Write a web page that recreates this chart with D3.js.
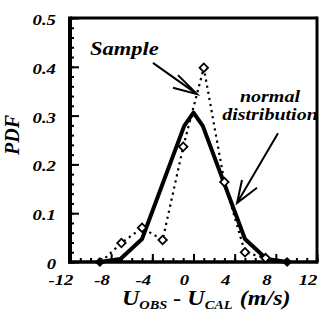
<!DOCTYPE html>
<html>
<head>
<meta charset="utf-8">
<script src="https://cdn.jsdelivr.net/npm/d3@7"></script>
<style>
  body { margin: 0; background: #fff; }
  text { font-family: "Liberation Serif", "Times New Roman", serif; font-weight: bold; font-style: italic; fill: #000; }
</style>
</head>
<body>
<div id="chart"></div>
<script>
/* data */
var normalX = [-9.1, -7.1, -5.0, -0.9, 0, 0.9, 5.0, 7.1, 9.1];
var normalY = [0, 0.006, 0.047, 0.279, 0.306, 0.279, 0.047, 0.006, 0];
var normalEnds = [-9.1, 9.1];

var sampleX = [-9, -7, -5, -3, -1, 1, 3, 5, 7, 9];
var sampleY = [0, 0.039, 0.07, 0.045, 0.236, 0.398, 0.164, 0.02, 0.008, 0];

var xTicks = [-12, -8, -4, 0, 4, 8, 12];
var yTicks = [0, 0.1, 0.2, 0.3, 0.4, 0.5];
var yTickLabels = ["0", "0.1", "0.2", "0.3", "0.4", "0.5"];

/* size of the graphic */
var width = 320, height = 320;
var plotLeft = 70, plotRight = 317, plotTop = 18, plotBottom = 262;
var stretch = 1.25; // the lettering in the picture is wide

var svg = d3.select("#chart")
  .append("svg")
    .attr("width", width)
    .attr("height", height);

var x = d3.scaleLinear().domain([-12, 12]).range([plotLeft, plotRight]);
var y = d3.scaleLinear().domain([0, 0.5]).range([plotBottom, plotTop]);

/* ticks, pointing inward */
function tickAxis(axis, pos, size, values) {
  var g = svg.append("g")
    .attr("transform", pos)
    .call(axis.tickValues(values).tickSize(size).tickFormat(""));
  g.select(".domain").remove();
  g.selectAll("line").attr("stroke", "#000").attr("stroke-width", 2);
}
tickAxis(d3.axisBottom(x), "translate(0," + plotBottom + ")", -4, d3.range(-12, 13, 1));
tickAxis(d3.axisBottom(x), "translate(0," + plotBottom + ")", -8, xTicks);
tickAxis(d3.axisLeft(y), "translate(" + plotLeft + ",0)", -4, d3.range(0, 26).map(function(i) { return i * 0.02; }));
tickAxis(d3.axisLeft(y), "translate(" + plotLeft + ",0)", -9, yTicks);

/* frame */
svg.append("line").attr("x1", plotLeft).attr("x2", plotRight).attr("y1", plotTop).attr("y2", plotTop)
  .attr("stroke", "#000").attr("stroke-width", 3);
svg.append("line").attr("x1", plotRight).attr("x2", plotRight).attr("y1", plotTop - 1.5).attr("y2", plotBottom)
  .attr("stroke", "#000").attr("stroke-width", 3);
svg.append("line").attr("x1", plotLeft - 2).attr("x2", plotRight + 1.5).attr("y1", plotBottom).attr("y2", plotBottom)
  .attr("stroke", "#000").attr("stroke-width", 3.5);
svg.append("line").attr("x1", plotLeft).attr("x2", plotLeft).attr("y1", plotTop - 1.5).attr("y2", plotBottom + 1.5)
  .attr("stroke", "#000").attr("stroke-width", 4);

/* wide text helper */
function label(px, py, str, size, anchor) {
  return svg.append("text")
    .attr("transform", "translate(" + px + "," + py + ") scale(" + stretch + ",1)")
    .attr("text-anchor", anchor || "start")
    .style("font-size", size + "px")
    .text(str);
}

/* tick labels */
xTicks.forEach(function(v) { label(x(v) - 9, 285, String(v), 15, "middle"); });
yTicks.forEach(function(v, i) { label(56, y(v) + 7, yTickLabels[i], 15, "end"); });

/* axis titles */
svg.append("text")
  .attr("transform", "translate(19,135) rotate(-90)")
  .attr("text-anchor", "middle")
  .style("font-size", "20px")
  .text("PDF");

var title = svg.append("text")
  .attr("transform", "translate(122,305) scale(1.2,1)")
  .style("font-size", "20px");
title.append("tspan").text("U");
title.append("tspan").attr("dy", 4).style("font-size", "12px").text("OBS");
title.append("tspan").attr("dy", -4).text(" - U");
title.append("tspan").attr("dy", 4).style("font-size", "12px").text("CAL");
title.append("tspan").attr("dy", -4).attr("dx", 6).text("(m/s)");

/* lines */
var line = d3.line().x(function(d) { return x(d[0]); }).y(function(d) { return y(d[1]); });

svg.append("path")
  .datum(d3.zip(sampleX, sampleY))
  .attr("d", line)
  .attr("fill", "none")
  .attr("stroke", "#000")
  .attr("stroke-width", 2.2)
  .attr("stroke-dasharray", "2.2,4");

svg.append("path")
  .datum(d3.zip(normalX, normalY))
  .attr("d", line)
  .attr("fill", "none")
  .attr("stroke", "#000")
  .attr("stroke-width", 4)
  .attr("stroke-linejoin", "round");

/* markers */
var diamond = d3.symbol().type(d3.symbolSquare);
svg.selectAll(".sample")
  .data(d3.zip(sampleX, sampleY).slice(1, -1))
  .enter().append("path")
    .attr("class", "sample")
    .attr("d", diamond.size(36)())
    .attr("transform", function(d) { return "translate(" + x(d[0]) + "," + y(d[1]) + ") rotate(45)"; })
    .attr("fill", "#fff")
    .attr("stroke", "#000")
    .attr("stroke-width", 1.8);

svg.selectAll(".ends")
  .data(normalEnds)
  .enter().append("path")
    .attr("d", diamond.size(50)())
    .attr("transform", function(d) { return "translate(" + x(d) + "," + y(0) + ") rotate(45)"; })
    .attr("fill", "#000");

/* annotations with arrows (data units) */
label(x(-10.06), y(0.424), "Sample", 18);
label(x(7.43), y(0.328), "normal", 16, "middle");
label(x(7.43), y(0.291), "distribution", 16, "middle");

function arrow(from, tip, barbA, barbB) {
  svg.append("path")
    .attr("d", "M" + x(from[0]) + "," + y(from[1]) + "L" + x(tip[0]) + "," + y(tip[1]) +
      "M" + x(barbA[0]) + "," + y(barbA[1]) + "L" + x(tip[0]) + "," + y(tip[1]) +
      "L" + x(barbB[0]) + "," + y(barbB[1]))
    .attr("fill", "none")
    .attr("stroke", "#000")
    .attr("stroke-width", 2);
}
arrow([-3.94, 0.408], [0.34, 0.344], [-1.51, 0.383], [-1.99, 0.357]);
arrow([8.21, 0.264], [4.23, 0.121], [4.71, 0.168], [6.17, 0.152]);
</script>
</body>
</html>
